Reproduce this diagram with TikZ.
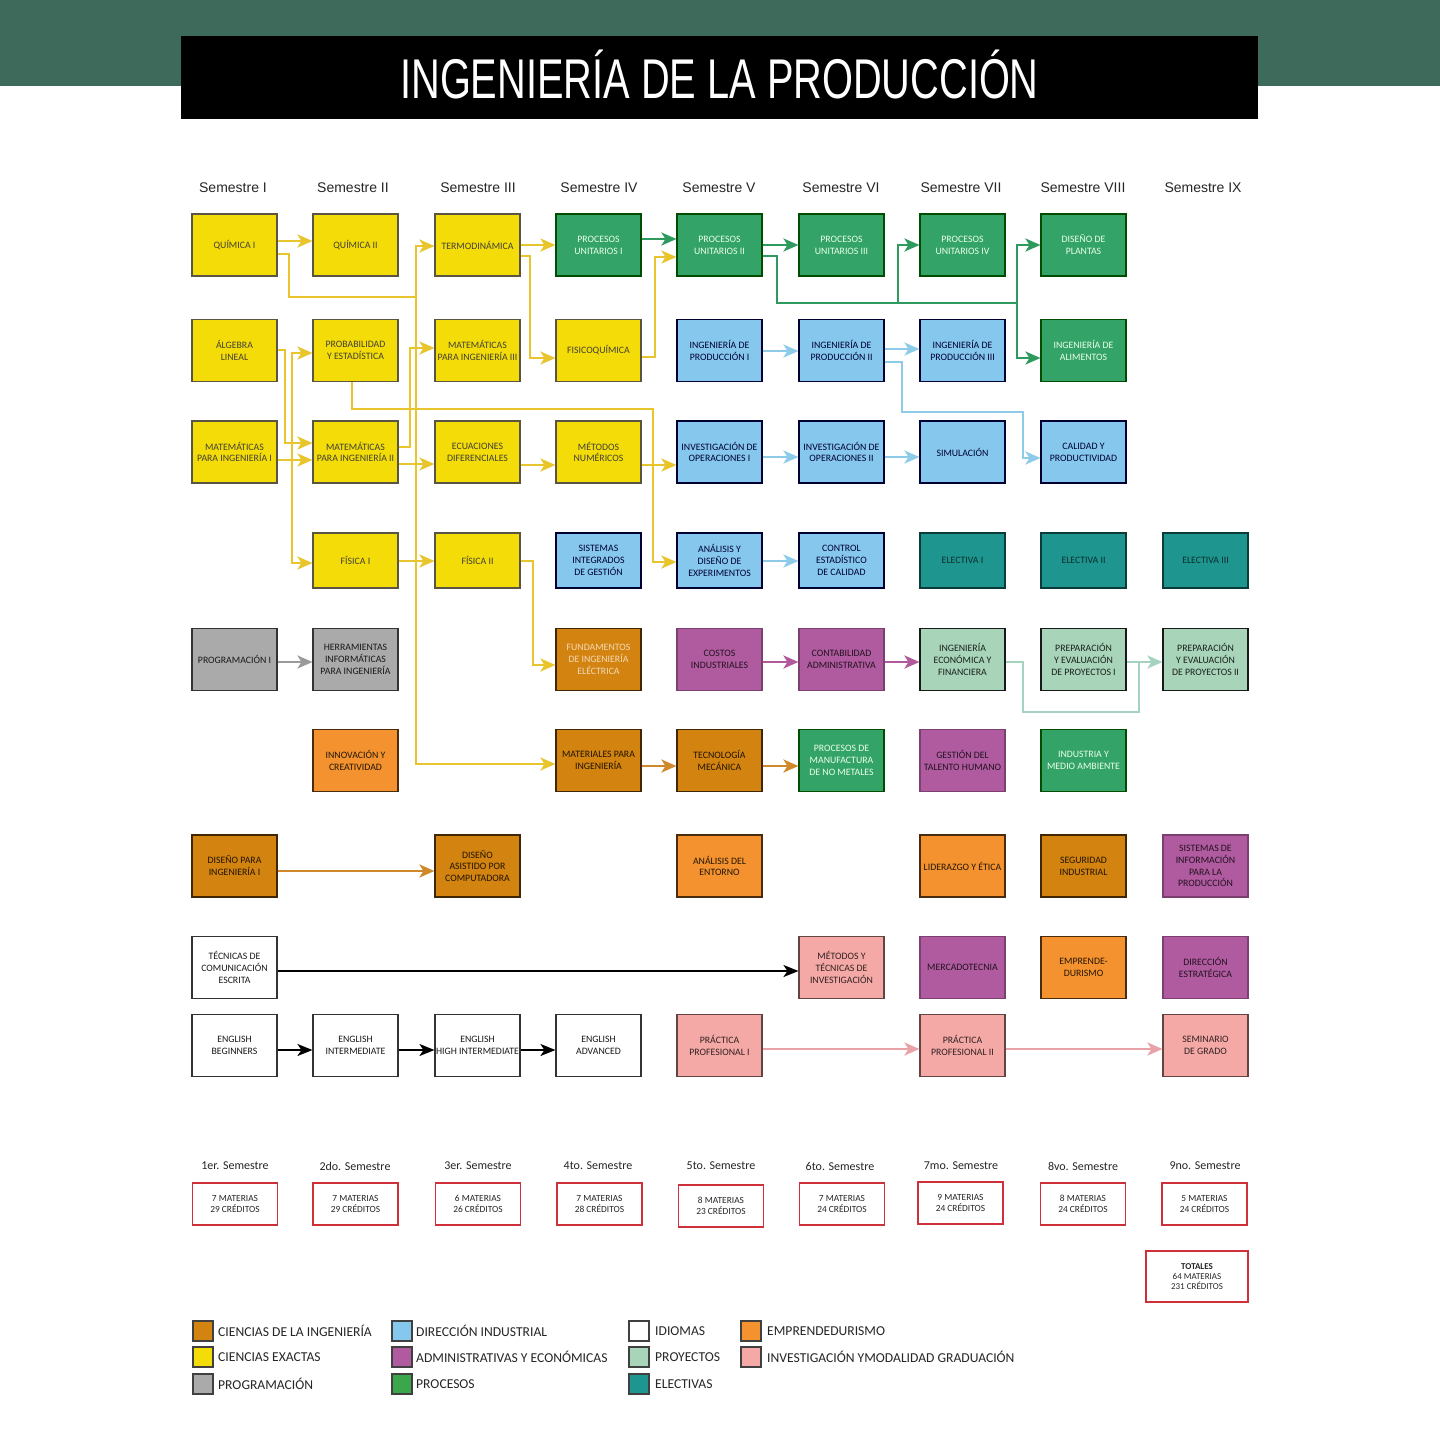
\documentclass[tikz,border=0pt]{standalone}
\usepackage{fontspec}
\setmainfont{Carlito}
\newfontfamily\hfont{Liberation Sans}
\usetikzlibrary{arrows.meta,calc}
\definecolor{band}{HTML}{3D6A5A}
\definecolor{cYel}{HTML}{F3DC07}
\definecolor{cGrn}{HTML}{33A367}
\definecolor{cBlu}{HTML}{86C8ED}
\definecolor{cTeal}{HTML}{1E968F}
\definecolor{cPur}{HTML}{B05BA0}
\definecolor{cDor}{HTML}{D3830F}
\definecolor{cOra}{HTML}{F3922E}
\definecolor{cLgr}{HTML}{A8D5B9}
\definecolor{cPnk}{HTML}{F4A9A6}
\definecolor{cGry}{HTML}{AAAAAA}
\definecolor{cLeg}{HTML}{3BA64A}
\definecolor{cRed}{HTML}{D0303A}
\definecolor{aYel}{HTML}{E8C52C}
\definecolor{aGrn}{HTML}{2E9A5E}
\definecolor{aBlu}{HTML}{8ECBE8}
\definecolor{aPur}{HTML}{B05A9C}
\definecolor{aLgr}{HTML}{A6D3BF}
\definecolor{aGry}{HTML}{9A9A9A}
\definecolor{aOra}{HTML}{D0892A}
\definecolor{aPnk}{HTML}{E9A2A8}
\newcommand{\wideline}[1]{\makebox[80pt][c]{#1}}
\tikzset{
  bx/.style={draw=black!80, line width=1.1pt, minimum width=85pt, minimum height=62pt,
    inner sep=0pt, align=center, font=\fontsize{9.8}{11.8}\selectfont},
  short/.style={minimum height=55pt},
  sYel/.style={bx, fill=cYel, text=black!85!yellow, draw=black!75!yellow},
  sGrn/.style={bx, fill=cGrn, text=white!92!green, draw=black!70!green},
  sBlu/.style={bx, fill=cBlu, text=black!80!blue, draw=black!80!blue},
  sTeal/.style={bx, fill=cTeal, text=black!70!cTeal, draw=black!60!cTeal},
  sPur/.style={bx, fill=cPur, text=black!80!cPur, draw=black!30!cPur},
  sDor/.style={bx, fill=cDor, text=black!85!cDor, draw=black!70!cDor},
  sDorL/.style={bx, fill=cDor, text=white!70!cDor, draw=black!70!cDor},
  sOra/.style={bx, fill=cOra, text=black!85!cOra, draw=black!70!cOra},
  sLgr/.style={bx, fill=cLgr, text=black!85!cLgr, draw=black!90},
  sPnk/.style={bx, fill=cPnk, text=black!80!cPnk, draw=black!60!cPnk},
  sGry/.style={bx, fill=cGry, text=black!90, draw=black!80},
  sWht/.style={bx, fill=white, text=black!90, draw=black!80},
  con/.style={line width=2.6pt, -{Stealth[length=15pt,width=13pt,inset=4pt]}},
  plain/.style={line width=2.6pt},
  ya/.style={con, draw=aYel, aYel}, yl/.style={plain, draw=aYel},
  ga/.style={con, draw=aGrn, aGrn}, gl/.style={plain, draw=aGrn},
  ba/.style={con, draw=aBlu, aBlu}, bl/.style={plain, draw=aBlu},
  pa/.style={con, draw=aPur, aPur},
  la/.style={con, draw=aLgr, aLgr}, ll/.style={plain, draw=aLgr},
  gya/.style={con, draw=aGry, aGry},
  oa/.style={con, draw=aOra, aOra},
  ka/.style={line width=2pt, draw=black, -{Stealth[length=15pt,width=12pt,inset=4pt]}},
  pka/.style={con, draw=aPnk, aPnk},
  hdr/.style={font=\hfont\fontsize{14}{16}\selectfont, text=black!85},
  slab/.style={font=\fontsize{12}{14}\selectfont, text=black!85},
  sbox/.style={draw=cRed, line width=1.3pt, fill=white, minimum width=85pt, minimum height=42pt,
    inner sep=0pt, align=center, font=\fontsize{9.4}{11.2}\selectfont, text=black!85},
  legsq/.style={draw=black!75, line width=1.4pt, minimum width=20pt, minimum height=20pt, inner sep=0pt},
  legtx/.style={anchor=west, inner sep=0pt, font=\fontsize{13.6}{15}\selectfont, text=black!85}
}
\begin{document}
\begin{tikzpicture}[x=1pt,y=-1pt]
\useasboundingbox (0,0) rectangle (1440,1440);
\fill[white] (0,0) rectangle (1440,1440);
\fill[band] (0,0) rectangle (1440,86);
\fill[black] (181,36) rectangle (1258,119);
\node[text=white, inner sep=0pt] (title) at (719.5,74) {\scalebox{0.71}[1]{\hfont\fontsize{56}{60}\selectfont INGENIERÍA DE LA PRODUCCIÓN}};

% semester headers
\node[hdr] (h1) at (233,188) {Semestre I};
\node[hdr] (h2) at (353,188) {Semestre II};
\node[hdr] (h3) at (478,188) {Semestre III};
\node[hdr] (h4) at (599,188) {Semestre IV};
\node[hdr] (h5) at (719,188) {Semestre V};
\node[hdr] (h6) at (841,188) {Semestre VI};
\node[hdr] (h7) at (961,188) {Semestre VII};
\node[hdr] (h8) at (1083,188) {Semestre VIII};
\node[hdr] (h9) at (1203,188) {Semestre IX};

% row 1
\node[sYel] (q1) at (234.5,245) {QUÍMICA I};
\node[sYel] (q2) at (355.5,245) {QUÍMICA II};
\node[sYel] (termo) at (477.5,245) {TERMODINÁMICA};
\node[sGrn] (pu1) at (598.5,245) {PROCESOS\\UNITARIOS I};
\node[sGrn] (pu2) at (719.5,245) {PROCESOS\\UNITARIOS II};
\node[sGrn] (pu3) at (841.5,245) {PROCESOS\\UNITARIOS III};
\node[sGrn] (pu4) at (962.5,245) {PROCESOS\\UNITARIOS IV};
\node[sGrn] (dp) at (1083.5,245) {DISEÑO DE\\PLANTAS};
% row 2
\node[sYel] (alg) at (234.5,350.5) {ÁLGEBRA\\LINEAL};
\node[sYel] (prob) at (355.5,350.5) {PROBABILIDAD\\Y ESTADÍSTICA};
\node[sYel] (mat3) at (477.5,350.5) {MATEMÁTICAS\\\wideline{PARA INGENIERÍA III}};
\node[sYel] (fisq) at (598.5,350.5) {FISICOQUÍMICA};
\node[sBlu] (ip1) at (719.5,350.5) {INGENIERÍA DE\\PRODUCCIÓN I};
\node[sBlu] (ip2) at (841.5,350.5) {INGENIERÍA DE\\PRODUCCIÓN II};
\node[sBlu] (ip3) at (962.5,350.5) {INGENIERÍA DE\\PRODUCCIÓN III};
\node[sGrn] (ia) at (1083.5,350.5) {INGENIERÍA DE\\ALIMENTOS};
% row 3
\node[sYel] (mat1) at (234.5,452) {MATEMÁTICAS\\\wideline{PARA INGENIERÍA I}};
\node[sYel] (mat2) at (355.5,452) {MATEMÁTICAS\\\wideline{PARA INGENIERÍA II}};
\node[sYel] (ecd) at (477.5,452) {ECUACIONES\\DIFERENCIALES};
\node[sYel] (mn) at (598.5,452) {MÉTODOS\\NUMÉRICOS};
\node[sBlu] (io1) at (719.5,452) {\wideline{INVESTIGACIÓN DE}\\OPERACIONES I};
\node[sBlu] (io2) at (841.5,452) {\wideline{INVESTIGACIÓN DE}\\OPERACIONES II};
\node[sBlu] (sim) at (962.5,452) {SIMULACIÓN};
\node[sBlu] (cal) at (1083.5,452) {CALIDAD Y\\PRODUCTIVIDAD};
% row 4
\node[sYel,short] (fis1) at (355.5,560.5) {FÍSICA I};
\node[sYel,short] (fis2) at (477.5,560.5) {FÍSICA II};
\node[sBlu,short] (sig) at (598.5,560.5) {SISTEMAS\\INTEGRADOS\\DE GESTIÓN};
\node[sBlu,short] (ade) at (719.5,560.5) {ANÁLISIS Y\\DISEÑO DE\\EXPERIMENTOS};
\node[sBlu,short] (cec) at (841.5,560.5) {CONTROL\\ESTADÍSTICO\\DE CALIDAD};
\node[sTeal,short] (el1) at (962.5,560.5) {ELECTIVA I};
\node[sTeal,short] (el2) at (1083.5,560.5) {ELECTIVA II};
\node[sTeal,short] (el3) at (1205.5,560.5) {ELECTIVA III};
% row 5
\node[sGry] (prog) at (234.5,659.5) {PROGRAMACIÓN I};
\node[sGry] (herr) at (355.5,659.5) {HERRAMIENTAS\\INFORMÁTICAS\\\wideline{PARA INGENIERÍA}};
\node[sDorL] (fund) at (598.5,659.5) {FUNDAMENTOS\\DE INGENIERÍA\\ELÉCTRICA};
\node[sPur] (cos) at (719.5,659.5) {COSTOS\\INDUSTRIALES};
\node[sPur] (cont) at (841.5,659.5) {CONTABILIDAD\\\wideline{ADMINISTRATIVA}};
\node[sLgr] (ie) at (962.5,659.5) {INGENIERÍA\\ECONÓMICA Y\\FINANCIERA};
\node[sLgr] (prep1) at (1083.5,659.5) {PREPARACIÓN\\Y EVALUACIÓN\\DE PROYECTOS I};
\node[sLgr] (prep2) at (1205.5,659.5) {PREPARACIÓN\\Y EVALUACIÓN\\DE PROYECTOS II};
% row 6
\node[sOra] (inn) at (355.5,760.5) {INNOVACIÓN Y\\CREATIVIDAD};
\node[sDor] (mater) at (598.5,760.5) {\wideline{MATERIALES PARA}\\INGENIERÍA};
\node[sDor] (tec) at (719.5,760.5) {TECNOLOGÍA\\MECÁNICA};
\node[sGrn] (pm) at (841.5,760.5) {PROCESOS DE\\MANUFACTURA\\DE NO METALES};
\node[sPur] (gth) at (962.5,760.5) {GESTIÓN DEL\\\wideline{TALENTO HUMANO}};
\node[sGrn] (ima) at (1083.5,760.5) {INDUSTRIA Y\\\wideline{MEDIO AMBIENTE}};
% row 7
\node[sDor] (dpi) at (234.5,866) {DISEÑO PARA\\INGENIERÍA I};
\node[sDor] (dac) at (477.5,866) {DISEÑO\\ASISTIDO POR\\COMPUTADORA};
\node[sOra] (ane) at (719.5,866) {ANÁLISIS DEL\\ENTORNO};
\node[sOra] (lid) at (962.5,866) {\wideline{LIDERAZGO Y ÉTICA}};
\node[sDor] (seg) at (1083.5,866) {SEGURIDAD\\INDUSTRIAL};
\node[sPur] (sip) at (1205.5,866) {SISTEMAS DE\\INFORMACIÓN\\PARA LA\\PRODUCCIÓN};
% row 8
\node[sWht] (tce) at (234.5,967.5) {TÉCNICAS DE\\COMUNICACIÓN\\ESCRITA};
\node[sPnk] (mti) at (841.5,967.5) {MÉTODOS Y\\TÉCNICAS DE\\INVESTIGACIÓN};
\node[sPur] (mer) at (962.5,967.5) {MERCADOTECNIA};
\node[sOra] (emp) at (1083.5,967.5) {EMPRENDE-\\DURISMO};
\node[sPur] (dire) at (1205.5,967.5) {DIRECCIÓN\\ESTRATÉGICA};
% row 9
\node[sWht] (en1) at (234.5,1045.5) {ENGLISH\\BEGINNERS};
\node[sWht] (en2) at (355.5,1045.5) {ENGLISH\\INTERMEDIATE};
\node[sWht] (en3) at (477.5,1045.5) {ENGLISH\\\wideline{HIGH INTERMEDIATE}};
\node[sWht] (en4) at (598.5,1045.5) {ENGLISH\\ADVANCED};
\node[sPnk] (pp1) at (719.5,1045.5) {PRÁCTICA\\PROFESIONAL I};
\node[sPnk] (pp2) at (962.5,1045.5) {PRÁCTICA\\PROFESIONAL II};
\node[sPnk] (sem) at (1205.5,1045.5) {SEMINARIO\\DE GRADO};

% junction coordinates
\coordinate (jq) at (416,297);
\coordinate (jm) at (292,460);
\coordinate (jp) at (898,303);
\coordinate (jd) at (1017,303);
\coordinate (jl) at (1139,712);

% yellow connectors
\draw[ya] (q1.east |- 0,241) -- (q2.west |- 0,241);
\draw[ya] (q1.east |- 0,254) -- (289,254) -- (289,297) -- (jq) -- (416,246) -- (termo.west |- 0,246);
\draw[ya] (jq) -- (416,764) -- (mater.west |- 0,764);
\draw[ya] (alg.east |- 0,350) -- (285,350) -- (285,443) -- (mat2.west |- 0,443);
\draw[ya] (mat1.east |- 0,460) -- (mat2.west |- 0,460);
\draw[ya] (jm) -- (292,353) -- (prob.west |- 0,353);
\draw[ya] (jm) -- (292,563) -- (fis1.west |- 0,563);
\draw[ya] (mat2.east |- 0,447) -- (410,447) -- (410,348) -- (mat3.west |- 0,348);
\draw[ya] (mat2.east |- 0,464) -- (ecd.west |- 0,464);
\draw[ya] (prob.south -| 352,0) -- (352,409) -- (653,409) -- (653,562) -- (ade.west |- 0,562);
\draw[ya] (termo.east |- 0,245) -- (pu1.west |- 0,245);
\draw[ya] (termo.east |- 0,256) -- (530,256) -- (530,358) -- (fisq.west |- 0,358);
\draw[ya] (fisq.east |- 0,357) -- (655,357) -- (655,257) -- (pu2.west |- 0,257);
\draw[ya] (ecd.east |- 0,465) -- (mn.west |- 0,465);
\draw[ya] (mn.east |- 0,465) -- (io1.west |- 0,465);
\draw[ya] (fis1.east |- 0,561) -- (fis2.west |- 0,561);
\draw[ya] (fis2.east |- 0,561) -- (533,561) -- (533,665) -- (fund.west |- 0,665);

% green connectors
\draw[ga] (pu1.east |- 0,239) -- (pu2.west |- 0,239);
\draw[ga] (pu2.east |- 0,245) -- (pu3.west |- 0,245);
\draw[gl] (pu2.east |- 0,256) -- (777,256) -- (777,303) -- (jd);
\draw[ga] (jp) -- (898,245) -- (pu4.west |- 0,245);
\draw[ga] (jd) -- (1017,245) -- (dp.west |- 0,245);
\draw[ga] (jd) -- (1017,358) -- (ia.west |- 0,358);

% blue connectors
\draw[ba] (ip1.east |- 0,351) -- (ip2.west |- 0,351);
\draw[ba] (ip2.east |- 0,349) -- (ip3.west |- 0,349);
\draw[ba] (ip2.east |- 0,362) -- (902,362) -- (902,412) -- (1023,412) -- (1023,458) -- (cal.west |- 0,458);
\draw[ba] (io1.east |- 0,457) -- (io2.west |- 0,457);
\draw[ba] (io2.east |- 0,457) -- (sim.west |- 0,457);
\draw[ba] (ade.east |- 0,561) -- (cec.west |- 0,561);

% purple, light green, gray, orange
\draw[pa] (cos.east |- 0,662) -- (cont.west |- 0,662);
\draw[pa] (cont.east |- 0,662) -- (ie.west |- 0,662);
\draw[ll] (ie.east |- 0,662) -- (1023,662) -- (1023,712) -- (jl) -- (1139,662);
\draw[la] (prep1.east |- 0,662) -- (prep2.west |- 0,662);
\draw[gya] (prog.east |- 0,662) -- (herr.west |- 0,662);
\draw[oa] (mater.east |- 0,766) -- (tec.west |- 0,766);
\draw[oa] (tec.east |- 0,766) -- (pm.west |- 0,766);
\draw[oa] (dpi.east |- 0,871) -- (dac.west |- 0,871);

% black and pink
\draw[ka] (tce.east |- 0,971) -- (mti.west |- 0,971);
\draw[ka] (en1.east |- 0,1050) -- (en2.west |- 0,1050);
\draw[ka] (en2.east |- 0,1050) -- (en3.west |- 0,1050);
\draw[ka] (en3.east |- 0,1050) -- (en4.west |- 0,1050);
\draw[pka] (pp1.east |- 0,1049) -- (pp2.west |- 0,1049);
\draw[pka] (pp2.east |- 0,1049) -- (sem.west |- 0,1049);

% summary
\node[slab] (s1) at (235,1166) {1er. Semestre};
\node[slab] (s2) at (355,1166) {2do. Semestre};
\node[slab] (s3) at (478,1166) {3er. Semestre};
\node[slab] (s4) at (598,1166) {4to. Semestre};
\node[slab] (s5) at (721,1166) {5to. Semestre};
\node[slab] (s6) at (840,1166) {6to. Semestre};
\node[slab] (s7) at (961,1166) {7mo. Semestre};
\node[slab] (s8) at (1083,1166) {8vo. Semestre};
\node[slab] (s9) at (1205,1166) {9no. Semestre};
\node[sbox] (b1) at (235,1204) {7 MATERIAS\\29 CRÉDITOS};
\node[sbox] (b2) at (355.5,1204) {7 MATERIAS\\29 CRÉDITOS};
\node[sbox] (b3) at (478,1204) {6 MATERIAS\\26 CRÉDITOS};
\node[sbox] (b4) at (599.5,1204) {7 MATERIAS\\28 CRÉDITOS};
\node[sbox] (b5) at (721,1206) {8 MATERIAS\\23 CRÉDITOS};
\node[sbox] (b6) at (842,1204) {7 MATERIAS\\24 CRÉDITOS};
\node[sbox] (b7) at (960.5,1203) {9 MATERIAS\\24 CRÉDITOS};
\node[sbox] (b8) at (1083,1204) {8 MATERIAS\\24 CRÉDITOS};
\node[sbox] (b9) at (1204.5,1204) {5 MATERIAS\\24 CRÉDITOS};
\node[sbox, minimum width=102pt, minimum height=51pt, font=\fontsize{9}{10.4}\selectfont] (tot) at (1197,1276.5) {\textbf{TOTALES}\\64 MATERIAS\\231 CRÉDITOS};

% legend
\node[legsq, fill=cDor] (lg1) at (203,1331) {};
\node[legtx] (lt1) at (218,1331) {CIENCIAS DE LA INGENIERÍA};
\node[legsq, fill=cYel] (lg2) at (203,1357) {};
\node[legtx] (lt2) at (218,1357) {CIENCIAS EXACTAS};
\node[legsq, fill=cGry] (lg3) at (203,1384) {};
\node[legtx] (lt3) at (218,1384) {PROGRAMACIÓN};
\node[legsq, fill=cBlu] (lg4) at (402,1331) {};
\node[legtx] (lt4) at (416,1331) {DIRECCIÓN INDUSTRIAL};
\node[legsq, fill=cPur] (lg5) at (402,1357) {};
\node[legtx] (lt5) at (416,1357) {ADMINISTRATIVAS Y ECONÓMICAS};
\node[legsq, fill=cLeg] (lg6) at (402,1384) {};
\node[legtx] (lt6) at (416,1384) {PROCESOS};
\node[legsq, fill=white] (lg7) at (639,1331) {};
\node[legtx] (lt7) at (655,1331) {IDIOMAS};
\node[legsq, fill=cLgr] (lg8) at (639,1357) {};
\node[legtx] (lt8) at (655,1357) {PROYECTOS};
\node[legsq, fill=cTeal] (lg9) at (639,1384) {};
\node[legtx] (lt9) at (655,1384) {ELECTIVAS};
\node[legsq, fill=cOra] (lg10) at (751,1331) {};
\node[legtx] (lt10) at (767,1331) {EMPRENDEDURISMO};
\node[legsq, fill=cPnk] (lg11) at (751,1357) {};
\node[legtx] (lt11) at (767,1357) {INVESTIGACIÓN YMODALIDAD GRADUACIÓN};
\end{tikzpicture}
\end{document}
